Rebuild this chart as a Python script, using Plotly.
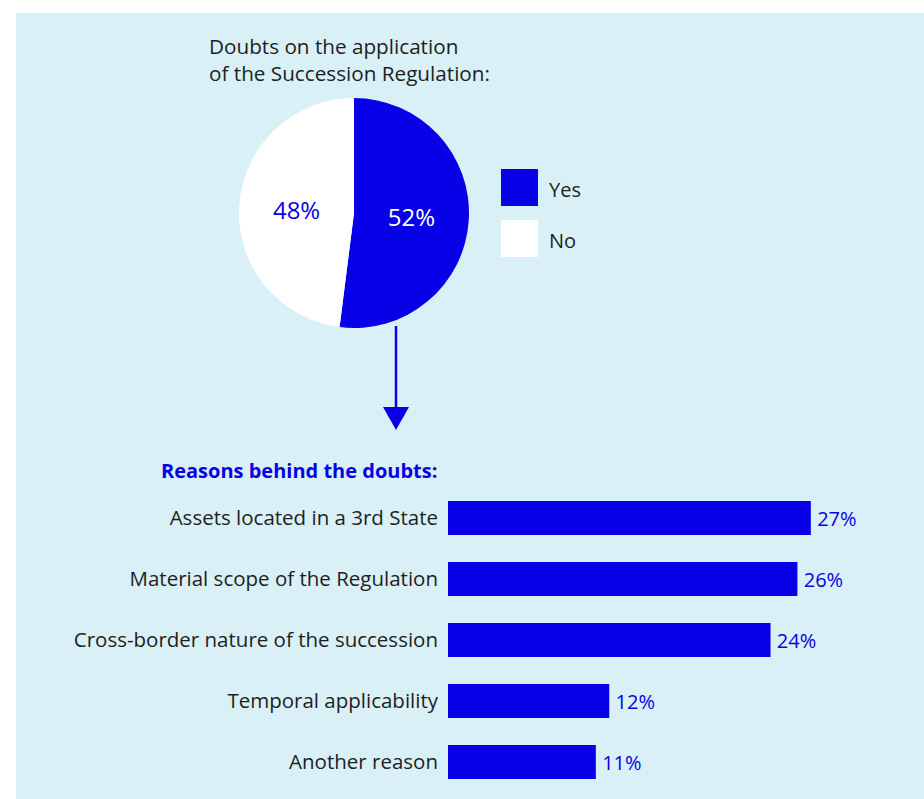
import plotly.graph_objects as go

W, H = 924, 799
BLUE = "#0800E6"
BG = "#D8F0F6"
DARK = "#1E1E1E"
FONT = "'Open Sans', 'Noto Sans', sans-serif"

# ---- data ----
pie_labels = ["Yes", "No"]
pie_values = [52, 48]
pie_colors = [BLUE, "#FFFFFF"]
pie_text_colors = ["#FFFFFF", BLUE]

bar_categories = [
    "Assets located in a 3rd State",
    "Material scope of the Regulation",
    "Cross-border nature of the succession",
    "Temporal applicability",
    "Another reason",
]
bar_values = [27, 26, 24, 12, 11]

pie_title = "Doubts on the application<br>of the Succession Regulation:"
bar_title = "<b>Reasons behind the doubts:</b>"


def px(x):
    return x / W


def py(y):
    return 1 - y / H


fig = go.Figure()

fig.add_trace(go.Pie(
    labels=pie_labels,
    values=pie_values,
    marker=dict(colors=pie_colors, line=dict(width=0)),
    sort=False,
    direction="clockwise",
    rotation=0,
    texttemplate="%{value}%",
    textposition="inside",
    insidetextorientation="horizontal",
    textfont=dict(color=pie_text_colors, size=24, family=FONT),
    domain=dict(x=[px(239), px(469)], y=[py(328), py(98)]),
    showlegend=False,
    hoverinfo="label+percent",
))

fig.add_trace(go.Bar(
    y=bar_categories,
    x=bar_values,
    orientation="h",
    marker=dict(color=BLUE, line=dict(width=0)),
    width=0.56,
    texttemplate="\u2009%{x}%",
    textposition="outside",
    textfont=dict(color=BLUE, size=20, family=FONT),
    cliponaxis=False,
    showlegend=False,
))

shapes = [
    dict(type="rect", xref="paper", yref="paper", x0=px(16), x1=1, y0=0, y1=py(13),
         fillcolor=BG, line=dict(width=0), layer="below"),
    # arrow
    dict(type="line", xref="paper", yref="paper", x0=px(396), x1=px(396), y0=py(326), y1=py(410),
         line=dict(color=BLUE, width=2.5)),
    dict(type="path", xref="paper", yref="paper",
         path=f"M {px(383)} {py(407)} L {px(409)} {py(407)} L {px(396)} {py(430)} Z",
         fillcolor=BLUE, line=dict(width=0)),
]

annotations = [
    dict(text=pie_title, x=px(207), y=py(60), xref="paper", yref="paper",
         xanchor="left", yanchor="middle", align="left", showarrow=False,
         font=dict(size=20.7, color=DARK, family=FONT)),
    dict(text=bar_title, x=px(159), y=py(470), xref="paper", yref="paper",
         xanchor="left", yanchor="middle", showarrow=False,
         font=dict(size=20, color=BLUE, family=FONT)),
]

# legend built from pie data
for i, (lab, col) in enumerate(zip(pie_labels, pie_colors)):
    top = 169 + i * 51
    shapes.append(dict(type="rect", xref="paper", yref="paper",
                       x0=px(501), x1=px(538), y0=py(top + 37), y1=py(top),
                       fillcolor=col, line=dict(width=0)))
    annotations.append(dict(text=lab, x=px(547), y=py(top + 20), xref="paper", yref="paper",
                            xanchor="left", yanchor="middle", showarrow=False,
                            font=dict(size=20, color=DARK, family=FONT)))

fig.update_layout(
    width=W, height=H,
    margin=dict(l=0, r=0, t=0, b=0),
    paper_bgcolor="#FFFFFF",
    plot_bgcolor="rgba(0,0,0,0)",
    shapes=shapes,
    annotations=annotations,
    xaxis=dict(domain=[px(448), 1], range=[0, 35.42], visible=False, fixedrange=True),
    yaxis=dict(domain=[py(792.5), py(487.5)], autorange="reversed",
               showgrid=False, zeroline=False, showline=False, ticks="",
               ticklabelstandoff=9,
               tickfont=dict(size=20.5, color=DARK, family=FONT), fixedrange=True),
    bargap=0.44,
)

fig.write_html("out.html")
